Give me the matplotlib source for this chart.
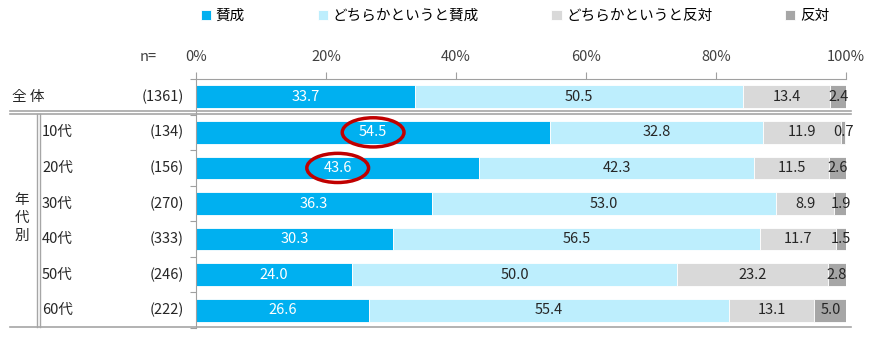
import numpy as np
from matplotlib import pyplot as plt
from matplotlib.lines import Line2D
from matplotlib.patches import Ellipse
from matplotlib.transforms import blended_transform_factory

plt.rcParams['font.family'] = ['Noto Sans CJK JP', 'DejaVu Sans']

groups = ["全 体", "10代", "20代", "30代", "40代", "50代", "60代"]
n_labels = ["(1361)", "(134)", "(156)", "(270)", "(333)", "(246)", "(222)"]
series = ["賛成", "どちらかというと賛成", "どちらかというと反対", "反対"]
agree = [33.7, 54.5, 43.6, 36.3, 30.3, 24.0, 26.6]
rather_agree = [50.5, 32.8, 42.3, 53.0, 56.5, 50.0, 55.4]
rather_disagree = [13.4, 11.9, 11.5, 8.9, 11.7, 23.2, 13.1]
disagree = [2.4, 0.7, 2.6, 1.9, 1.5, 2.8, 5.0]
highlight = [1, 2]

colors = ["#00B0F0", "#BDEEFD", "#D9D9D9", "#A6A6A6"]
text_colors = ["white", "#262626", "#262626", "#262626"]

W, H = 889, 340
fig = plt.figure(figsize=(W / 100, H / 100), dpi=100)
ax = fig.add_axes([196 / W, 1 - 328 / H, 650 / W, (328 - 79) / H])

y = np.arange(len(groups))
left = np.zeros(len(groups))
for vals, c, tc, name in zip([agree, rather_agree, rather_disagree, disagree], colors, text_colors, series):
    vals = np.array(vals)
    ax.barh(y, vals, left=left, height=0.64, color=c, edgecolor="white", linewidth=0.6, label=name)
    for yi, l, v in zip(y, left, vals):
        ax.text(l + v / 2, yi, f"{v:.1f}", ha="center", va="center", fontsize=10.5, color=tc)
    left += vals

# red circles around highlighted labels
for i in highlight:
    ax.add_patch(Ellipse((agree[i] / 2, i), 9.5, 0.82,
                         fill=False, edgecolor="#C00000", linewidth=2.5, clip_on=False))

ax.set_xlim(0, 100)
ax.set_ylim(6.5, -0.45)
ax.xaxis.tick_top()
ax.set_xticks(np.arange(0, 101, 20))
ax.set_xticklabels([f"{v}%" for v in range(0, 101, 20)], fontsize=10.5, color="#404040")
ax.tick_params(axis="x", length=5, color="#A0A0A0", pad=6)
ax.set_yticks(np.arange(-0.5, 7, 1))
ax.set_yticklabels([])
ax.tick_params(axis="y", length=4, color="#A0A0A0")
for s in ["right", "bottom"]:
    ax.spines[s].set_visible(False)
for s in ["top", "left"]:
    ax.spines[s].set_color("#A0A0A0")

# row labels
tr = blended_transform_factory(fig.transFigure, ax.transData)
for yi, g, n in zip(y, groups, n_labels):
    gx = 12 if yi == 0 else 42
    ax.text(gx / W, yi, g, transform=tr, ha="left", va="center", fontsize=10.5, color="#262626")
    ax.text(184 / W, yi, n, transform=tr, ha="right", va="center", fontsize=10.5, color="#262626")
fig.text(22 / W, 1 - 218 / H, "年\n代\n別", ha="center", va="center", fontsize=10.5,
         color="#262626", linespacing=1.35)
fig.text(148 / W, 1 - 57 / H, "n=", ha="center", va="center", fontsize=10.5, color="#404040")

# table lines
def hline(y0, x0=10, x1=851, lw=1.2):
    fig.add_artist(Line2D([x0 / W, x1 / W], [1 - y0 / H, 1 - y0 / H], color="#A6A6A6", lw=lw))

def vline(x0, y0, y1, lw=1.0):
    fig.add_artist(Line2D([x0 / W, x0 / W], [1 - y0 / H, 1 - y1 / H], color="#A6A6A6", lw=lw))

hline(111)
hline(114)
hline(327)
vline(37, 114, 327)
vline(39.5, 114, 327)

fig.legend(loc="upper center", bbox_to_anchor=(515 / W, 1.0), ncol=4, frameon=False,
           fontsize=10.5, handlelength=0.7, handleheight=0.7, handletextpad=0.3,
           columnspacing=5.0, borderaxespad=0.2)

fig.savefig("out.png", dpi=100)
